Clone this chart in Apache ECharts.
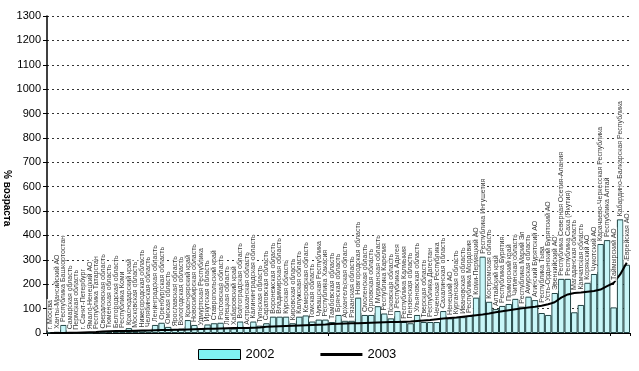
<!DOCTYPE html>
<html><head><meta charset="utf-8">
<script src="https://cdn.jsdelivr.net/npm/echarts@6/dist/echarts.min.js"></script>
<style>html,body{margin:0;padding:0;background:#fff}#c{width:639px;height:371px}</style>
</head><body><div id="c"></div>
<script>
const categories = [
"г. Москва","Ханты-Мансийский АО","Республика Башкортостан","Самарская область","Пермская область",
"г. Санкт-Петербург","Ямало-Ненецкий АО","Республика Татарстан","Свердловская область","Тюменская область",
"Белгородская область","Республика Коми","Краснодарский край","Московская область","Нижегородская область",
"Челябинская область","Ленинградская область","Оренбургская область","Омская область","Ярославская область",
"Вологодская область","Красноярский край","Новосибирская область","Удмуртская Республика","Иркутская область",
"Ставропольский край","Ростовская область","Липецкая область","Хабаровский край","Волгоградская область",
"Астраханская область","Калининградская область","Тульская область","Саратовская область","Воронежская область",
"Владимирская область","Курская область","Кировская область","Калужская область","Кемеровская область",
"Томская область","Чувашская Республика","Республика Хакасия","Тамбовская область","Брянская область",
"Архангельская область","Рязанская область","Новгородская область","Смоленская область","Орловская область",
"Мурманская область","Республика Карелия","Псковская область","Республика Адыгея","Республика Калмыкия",
"Пензенская область","Ульяновская область","Тверская область","Республика Дагестан","Чеченская Республика",
"Сахалинская область","Ненецкий АО","Курганская область","Ивановская область","Республика Мордовия",
"Коми-Пермяцкий АО","Республика Ингушетия","Костромская область","Алтайский край","Республика Бурятия",
"Приморский край","Читинская область","Республика Марий Эл","Амурская область","Агинский Бурятский АО",
"Республика Тыва","Усть-Ордынский Бурятский АО","Эвенкийский АО","Республика Северная Осетия-Алания","Республика Саха (Якутия)",
"Магаданская область","Камчатская область","Корякский АО","Чукотский АО","Карачаево-Черкесская Республика",
"Республика Алтай","Таймырский АО","Кабардино-Балкарская Республика","Еврейская АО"
];
const values2002 = [
2,5,33,3,0, 2,0,3,2,5, 4,8,20,8,10, 12,33,42,25,15,
18,53,33,18,35, 40,42,20,18,47, 22,47,30,40,67, 67,67,40,67,72,
47,55,55,45,74, 50,50,145,74,74, 110,80,60,90,45, 40,74,45,45,45,
90,60,65,65,70, 145,313,128,98,111, 119,140,108,149,135, 82,74,164,222,222,
85,115,206,242,365, 381,105,466,280
];
const values2003 = [
0,0,0,1,1, 2,3,4,6,7, 8,8,8,9,10, 10,11,12,12,13,
13,14,15,16,17, 17,18,19,20,20, 21,22,23,26,27, 28,29,30,31,32,
33,34,35,37,38, 39,40,40,41,42, 43,44,45,45,46, 47,49,51,53,56,
59,62,64,67,70, 73,76,80,85,89, 93,97,101,105,108, 112,118,126,145,158,
164,166,169,172,178, 192,205,240,288
];
const yTicks = {min:0, max:1300, interval:100};
const seriesNames = ["2002","2003"];

const labelTops = values2002.map((v,i)=>Math.max(v, values2003[i]));

const chart = echarts.init(document.getElementById('c'), null, {renderer:'canvas'});
chart.setOption({
  animation:false,
  textStyle:{fontFamily:'Liberation Sans, Arial, sans-serif'},
  grid:{left:47, right:9, top:16, bottom:38},
  legend:{
    bottom:5, left:193, itemGap:46, itemWidth:42, itemHeight:10,
    textStyle:{fontSize:13, color:'#000'},
    data:[
      {name:seriesNames[0], icon:'rect', itemStyle:{color:'#7ff2f2', borderColor:'#000', borderWidth:1}},
      {name:seriesNames[1], icon:'path://M0,0 L40,0 L40,3 L0,3 Z', itemStyle:{color:'#000'}}
    ]
  },
  xAxis:{
    type:'category', data:categories, boundaryGap:true,
    axisLine:{lineStyle:{color:'#000', width:1}},
    axisTick:{show:true, length:3, lineStyle:{color:'#000'}},
    axisLabel:{show:false}, splitLine:{show:false}
  },
  yAxis:{
    type:'value', min:yTicks.min, max:yTicks.max, interval:yTicks.interval,
    axisLine:{show:true, lineStyle:{color:'#000', width:1.5}},
    axisTick:{show:true, length:4, lineStyle:{color:'#000'}},
    axisLabel:{fontSize:11, color:'#000', margin:6, formatter:v=>String(v)},
    splitLine:{show:true, lineStyle:{color:'#333', type:[2,3], width:1}}
  },
  graphic:[{
    type:'text', left:2, top:170, rotation:-Math.PI/2,
    style:{text:'% возраста', fontSize:10, fontWeight:'bold', fill:'#000', fontFamily:'Liberation Sans, Arial'}
  }],
  series:[
    {name:seriesNames[0], type:'bar', data:values2002, barCategoryGap:'0%',
     itemStyle:{color:'#c8f6f8', borderColor:'#244', borderWidth:1}},
    {name:seriesNames[1], type:'line', data:values2003, symbol:'none',
     lineStyle:{color:'#000', width:2}, itemStyle:{color:'#000'}, z:5},
    {name:'labels', type:'scatter', data:labelTops, symbolSize:0, silent:true, z:6,
     label:{show:true, position:'top', rotate:90, align:'left', verticalAlign:'middle', distance:2,
       fontSize:7, color:'#000', backgroundColor:'#fff', padding:[0,1],
       formatter:p=>categories[p.dataIndex]}}
  ]
});
</script></body></html>
